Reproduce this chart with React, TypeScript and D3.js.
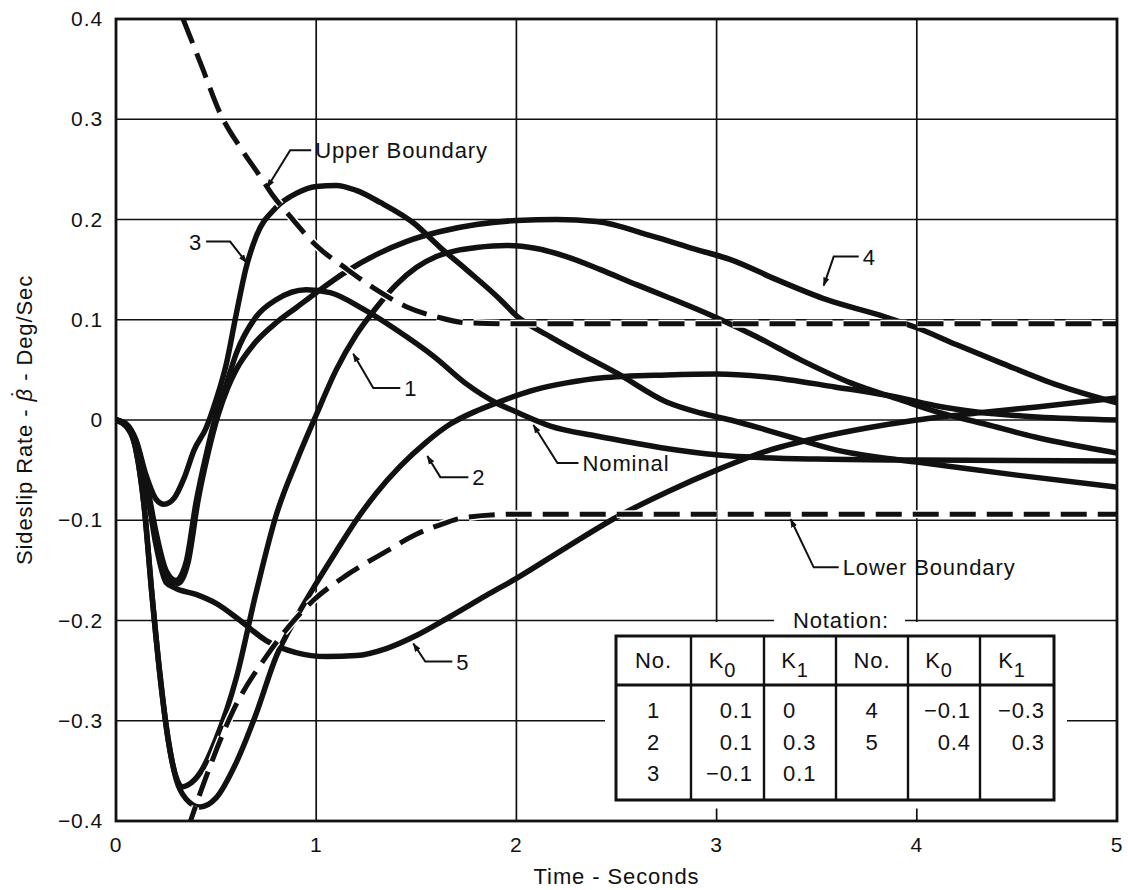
import React from 'react';
import * as d3 from 'd3';

// Sideslip rate response, [time (s), rate (deg/sec)]
const nominal = [[0, 0], [0.05, -0.004], [0.1, -0.022], [0.15, -0.06], [0.2, -0.112], [0.25, -0.15], [0.3, -0.16], [0.35, -0.142], [0.4, -0.082], [0.45, -0.035], [0.5, 0.005], [0.55, 0.035], [0.6, 0.066], [0.7, 0.103], [0.8, 0.12], [0.95, 0.13], [1.07, 0.127], [1.24, 0.11], [1.4, 0.09], [1.59, 0.063], [1.75, 0.036], [1.9, 0.017], [2.0, 0.008], [2.17, -0.006], [2.4, -0.016], [2.59, -0.023], [2.8, -0.03], [3.07, -0.036], [3.5, -0.039], [4.0, -0.04], [5.0, -0.041]];
const run1 = [[0, 0], [0.05, -0.006], [0.1, -0.03], [0.14, -0.085], [0.18, -0.175], [0.22, -0.255], [0.26, -0.318], [0.3, -0.356], [0.33, -0.366], [0.36, -0.364], [0.42, -0.352], [0.5, -0.318], [0.6, -0.258], [0.7, -0.172], [0.8, -0.095], [0.9, -0.042], [1.0, 0.005], [1.1, 0.05], [1.2, 0.085], [1.3, 0.112], [1.4, 0.135], [1.5, 0.152], [1.6, 0.163], [1.7, 0.169], [1.8, 0.172], [1.95, 0.174], [2.1, 0.171], [2.25, 0.163], [2.42, 0.15], [2.6, 0.135], [2.75, 0.123], [3.0, 0.102], [3.2, 0.083], [3.42, 0.06], [3.67, 0.037], [3.92, 0.02], [4.1, 0.008], [4.34, -0.004], [4.59, -0.017], [5.0, -0.033]];
const run2 = [[0, 0], [0.05, -0.006], [0.1, -0.03], [0.14, -0.085], [0.18, -0.175], [0.22, -0.255], [0.26, -0.318], [0.3, -0.358], [0.35, -0.378], [0.42, -0.386], [0.5, -0.377], [0.6, -0.342], [0.7, -0.293], [0.8, -0.236], [0.9, -0.197], [1.0, -0.163], [1.1, -0.131], [1.2, -0.1], [1.3, -0.073], [1.42, -0.046], [1.55, -0.022], [1.67, -0.004], [1.8, 0.009], [1.9, 0.017], [2.09, 0.03], [2.25, 0.037], [2.42, 0.042], [2.75, 0.045], [3.0, 0.046], [3.25, 0.043], [3.59, 0.033], [3.92, 0.022], [4.1, 0.014], [4.3, 0.008], [4.6, 0.003], [5.0, 0.0]];
const run3 = [[0, 0], [0.05, -0.004], [0.1, -0.02], [0.15, -0.055], [0.2, -0.079], [0.24, -0.084], [0.29, -0.078], [0.34, -0.058], [0.39, -0.03], [0.45, -0.008], [0.5, 0.02], [0.55, 0.055], [0.6, 0.105], [0.65, 0.152], [0.7, 0.183], [0.8, 0.212], [0.9, 0.226], [1.0, 0.233], [1.1, 0.234], [1.2, 0.229], [1.32, 0.217], [1.49, 0.196], [1.62, 0.172], [1.75, 0.15], [1.92, 0.12], [2.0, 0.104], [2.17, 0.083], [2.35, 0.063], [2.5, 0.047], [2.75, 0.018], [2.92, 0.007], [3.07, 0.0], [3.25, -0.01], [3.42, -0.02], [3.6, -0.03], [3.8, -0.037], [4.0, -0.042], [4.5, -0.055], [5.0, -0.067]];
const run4 = [[0, 0], [0.05, -0.005], [0.1, -0.024], [0.15, -0.064], [0.2, -0.118], [0.25, -0.155], [0.31, -0.163], [0.36, -0.142], [0.41, -0.08], [0.46, -0.033], [0.51, 0.005], [0.56, 0.033], [0.6, 0.05], [0.69, 0.076], [0.8, 0.097], [0.9, 0.112], [1.0, 0.127], [1.15, 0.148], [1.3, 0.165], [1.45, 0.178], [1.62, 0.188], [1.8, 0.195], [2.0, 0.199], [2.2, 0.2], [2.4, 0.198], [2.67, 0.184], [2.9, 0.17], [3.07, 0.16], [3.3, 0.14], [3.55, 0.12], [3.84, 0.103], [4.0, 0.092], [4.2, 0.075], [4.42, 0.057], [4.7, 0.035], [5.0, 0.017]];
const run5 = [[0, 0], [0.05, -0.005], [0.1, -0.025], [0.15, -0.066], [0.2, -0.125], [0.25, -0.162], [0.3, -0.168], [0.4, -0.174], [0.5, -0.183], [0.62, -0.2], [0.75, -0.22], [0.9, -0.232], [1.05, -0.236], [1.2, -0.235], [1.35, -0.228], [1.5, -0.215], [1.67, -0.196], [1.85, -0.175], [2.0, -0.158], [2.25, -0.127], [2.5, -0.097], [2.75, -0.072], [3.0, -0.05], [3.25, -0.031], [3.5, -0.018], [3.75, -0.008], [4.0, 0.0], [4.3, 0.007], [4.6, 0.013], [5.0, 0.022]];
const upperBoundary = [[0.335, 0.4], [0.43, 0.352], [0.52, 0.306], [0.62, 0.272], [0.72, 0.243], [0.78, 0.225], [0.87, 0.203], [1.0, 0.174], [1.15, 0.151], [1.3, 0.13], [1.45, 0.113], [1.6, 0.103], [1.75, 0.097], [2.0, 0.096], [5.0, 0.096]];
const lowerBoundary = [[0.355, -0.41], [0.45, -0.356], [0.585, -0.29], [0.75, -0.236], [0.985, -0.18], [1.15, -0.155], [1.35, -0.131], [1.5, -0.114], [1.64, -0.103], [1.75, -0.097], [2.0, -0.094], [5.0, -0.094]];

const xTicks = [0, 1, 2, 3, 4, 5];
const yTicks = [0.4, 0.3, 0.2, 0.1, 0, -0.1, -0.2, -0.3, -0.4];
const yTickLabels = ['0.4', '0.3', '0.2', '0.1', '0', '\u22120.1', '\u22120.2', '\u22120.3', '\u22120.4'];

// callouts: label, text anchor point, elbow, arrow tip (data units)
const callouts = [
  { label: 'Upper Boundary', text: [0.995, 0.269], elbow: [0.87, 0.269], tip: [0.755, 0.232] },
  { label: '3', text: [0.43, 0.178], elbow: [0.57, 0.178], tip: [0.652, 0.157], end: true },
  { label: '1', text: [1.44, 0.032], elbow: [1.285, 0.032], tip: [1.185, 0.066] },
  { label: '2', text: [1.78, -0.057], elbow: [1.62, -0.057], tip: [1.555, -0.036] },
  { label: 'Nominal', text: [2.33, -0.043], elbow: [2.205, -0.043], tip: [2.085, -0.005] },
  { label: '4', text: [3.73, 0.163], elbow: [3.585, 0.163], tip: [3.535, 0.134] },
  { label: '5', text: [1.7, -0.241], elbow: [1.545, -0.241], tip: [1.485, -0.223] },
  { label: 'Lower Boundary', text: [3.63, -0.147], elbow: [3.485, -0.147], tip: [3.37, -0.099] },
];

// notation table
const tableHeaders = ['No.', 'K', 'K', 'No.', 'K', 'K'];
const tableSubs = ['', '0', '1', '', '0', '1'];
const colNo1 = ['1', '2', '3'];
const colK0a = ['0.1', '0.1', '\u22120.1'];
const colK1a = ['0', '0.3', '0.1'];
const colNo2 = ['4', '5'];
const colK0b = ['\u22120.1', '0.4'];
const colK1b = ['\u22120.3', '0.3'];

const FONT = '"Liberation Sans", Arial, Helvetica, sans-serif';

export default function App() {
  const x = d3.scaleLinear().domain([0, 5]).range([116, 1117]);
  const y = d3.scaleLinear().domain([-0.4, 0.4]).range([821, 19]);
  const line = d3.line<number[]>().x(d => x(d[0])).y(d => y(d[1])).curve(d3.curveMonotoneX);

  const curves = [run5, nominal, run4, run3, run2, run1];
  const cols = [616, 691, 764, 836, 908, 980, 1054];
  const rowY = [718, 750, 781];
  const txt = { fontFamily: FONT, fontSize: 22, letterSpacing: 0.9, fill: '#111' } as const;

  return (
    <div style={{ position: 'absolute', left: 0, top: 0 }}>
      <svg width={1128} height={890} style={{ display: 'block', background: '#fff' }}>
        <defs>
          <clipPath id="plot">
            <rect x={x(0)} y={y(0.4)} width={x(5) - x(0)} height={y(-0.4) - y(0.4)} />
          </clipPath>
          <marker id="arr" viewBox="0 0 10 10" refX="9" refY="5" markerWidth="9" markerHeight="9" orient="auto" markerUnits="userSpaceOnUse">
            <path d="M0,1.5 L10,5 L0,8.5 z" fill="#111" />
          </marker>
        </defs>

        {/* grid */}
        {yTicks.map(v => (
          <line key={'gy' + v} x1={x(0)} x2={x(5)} y1={y(v)} y2={y(v)} stroke="#111" strokeWidth={1.7} />
        ))}
        {xTicks.map(t => (
          <line key={'gx' + t} x1={x(t)} x2={x(t)} y1={y(0.4)} y2={y(-0.4)} stroke="#111" strokeWidth={1.7} />
        ))}

        {/* responses */}
        <g clipPath="url(#plot)">
          {curves.map((c, i) => (
            <path key={'c' + i} d={line(c) || ''} fill="none" stroke="#111" strokeWidth={5.5} strokeLinejoin="round" strokeLinecap="round" />
          ))}
          {[upperBoundary, lowerBoundary].map((b, i) => (
            <g key={'b' + i}>
              <path d={line(b) || ''} fill="none" stroke="#fff" strokeWidth={8} strokeDasharray="26 11" />
              <path d={line(b) || ''} fill="none" stroke="#111" strokeWidth={5} strokeDasharray="26 11" />
            </g>
          ))}
        </g>

        {/* frame */}
        <rect x={x(0)} y={y(0.4)} width={x(5) - x(0)} height={y(-0.4) - y(0.4)} fill="none" stroke="#111" strokeWidth={2.8} />

        {/* tick labels */}
        {yTicks.map((v, i) => (
          <text key={'ty' + v} x={103} y={y(v) + 7} textAnchor="end" {...txt} fontSize={21}>{yTickLabels[i]}</text>
        ))}
        {xTicks.map(t => (
          <text key={'tx' + t} x={x(t)} y={852} textAnchor="middle" {...txt} fontSize={21}>{t}</text>
        ))}

        {/* axis titles */}
        <text x={(x(0) + x(5)) / 2} y={884} textAnchor="middle" {...txt}>Time - Seconds</text>
        <text transform={`translate(32, ${y(0)}) rotate(-90)`} textAnchor="middle" {...txt}>
          Sideslip Rate - <tspan fontStyle="italic">{'\u03B2'}</tspan>
          <tspan dx={-9} dy={-5}>{'\u02D9'}</tspan>
          <tspan dx={1} dy={5}> - Deg/Sec</tspan>
        </text>

        {/* notation box */}
        <rect x={605} y={y(-0.2) + 1.5} width={462} height={y(-0.4) - y(-0.2) - 14} fill="#fff" />
        <rect x={774} y={y(-0.2) - 14} width={131} height={28} fill="#fff" />
        <text x={841} y={y(-0.2) + 7} textAnchor="middle" {...txt}>Notation:</text>
        <rect x={cols[0]} y={636} width={cols[6] - cols[0]} height={164} fill="#fff" stroke="#111" strokeWidth={3} />
        <line x1={cols[0]} x2={cols[6]} y1={685} y2={685} stroke="#111" strokeWidth={3} />
        {cols.slice(1, 6).map(c => (
          <line key={'col' + c} x1={c} x2={c} y1={636} y2={800} stroke="#111" strokeWidth={2.4} />
        ))}
        {tableHeaders.map((h, i) => (
          <text key={'h' + i} x={(cols[i] + cols[i + 1]) / 2 - (tableSubs[i] ? 5 : 0)} y={668} textAnchor="middle" {...txt}>
            {h}
            {tableSubs[i] && <tspan dy={9} fontSize={20}>{tableSubs[i]}</tspan>}
          </text>
        ))}
        {colNo1.map((s, i) => (
          <text key={'n1' + i} x={(cols[0] + cols[1]) / 2} y={rowY[i]} textAnchor="middle" {...txt}>{s}</text>
        ))}
        {colK0a.map((s, i) => (
          <text key={'k0a' + i} x={cols[2] - 11} y={rowY[i]} textAnchor="end" {...txt}>{s}</text>
        ))}
        {colK1a.map((s, i) => (
          <text key={'k1a' + i} x={cols[2] + 19} y={rowY[i]} textAnchor="start" {...txt}>{s}</text>
        ))}
        {colNo2.map((s, i) => (
          <text key={'n2' + i} x={(cols[3] + cols[4]) / 2} y={rowY[i]} textAnchor="middle" {...txt}>{s}</text>
        ))}
        {colK0b.map((s, i) => (
          <text key={'k0b' + i} x={cols[5] - 9} y={rowY[i]} textAnchor="end" {...txt}>{s}</text>
        ))}
        {colK1b.map((s, i) => (
          <text key={'k1b' + i} x={cols[6] - 9} y={rowY[i]} textAnchor="end" {...txt}>{s}</text>
        ))}

        {/* callouts */}
        {callouts.map(c => {
          const tx = x(c.text[0]);
          const ty = y(c.text[1]);
          const ex = x(c.elbow[0]);
          const startX = c.end ? tx + 4 : tx - 4;
          return (
            <g key={c.label}>
              <polyline
                points={`${startX},${ty} ${ex},${y(c.elbow[1])} ${x(c.tip[0])},${y(c.tip[1])}`}
                fill="none" stroke="#111" strokeWidth={2} markerEnd="url(#arr)" />
              <text x={tx} y={ty + 8} textAnchor={c.end ? 'end' : 'start'} {...txt}>{c.label}</text>
            </g>
          );
        })}
      </svg>
    </div>
  );
}
